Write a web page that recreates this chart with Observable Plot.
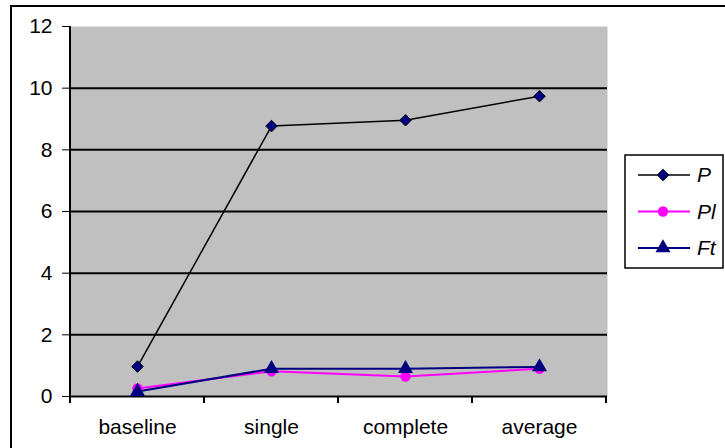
<!DOCTYPE html>
<html>
<head>
<meta charset="utf-8">
<script src="https://cdn.jsdelivr.net/npm/d3@7"></script>
<script src="https://cdn.jsdelivr.net/npm/@observablehq/plot@0.6"></script>
<style>
  html, body { margin: 0; padding: 0; background: white; }
  #chart { width: 725px; height: 448px; overflow: hidden; }
</style>
</head>
<body>
<div id="chart"></div>
<script>
const categories = ["baseline", "single", "complete", "average"];
const seriesNames = ["P", "Pl", "Ft"];
const P  = [0.97, 8.77, 8.96, 9.74];
const Pl = [0.26, 0.82, 0.65, 0.90];
const Ft = [0.16, 0.90, 0.90, 0.96];
const yTicks = [0, 2, 4, 6, 8, 10, 12];

const seriesValues = {P, Pl, Ft};
const colors = {P: "black", Pl: "#FF00FF", Ft: "#000080"};
const fills = {P: "#000080", Pl: "#FF00FF", Ft: "#000080"};
const symbols = {P: "diamond2", Pl: "circle", Ft: "triangle"};
const radii = {P: 5.2, Pl: 5.2, Ft: 5.6};
const widths = {P: 1.5, Pl: 2, Ft: 2};

const data = [];
for (const s of seriesNames) {
  categories.forEach((c, i) => data.push({series: s, cat: c, value: seriesValues[s][i]}));
}

const marks = [
  Plot.frame({fill: "#C0C0C0", stroke: null}),
  Plot.ruleY(yTicks.filter(t => t > 0 && t < 12), {stroke: "black", strokeWidth: 2}),
  Plot.ruleY([0], {stroke: "black", strokeWidth: 2}),
  Plot.axisY({ticks: yTicks, tickSize: 7, tickPadding: 10, tickFormat: d => String(d), label: null}),
  Plot.axisX({tickSize: 0, tickPadding: 23, label: null})
];
for (const s of seriesNames) {
  const d = data.filter(r => r.series === s);
  marks.push(Plot.line(d, {x: "cat", y: "value", stroke: colors[s], strokeWidth: widths[s]}));
}
for (const s of seriesNames) {
  const d = data.filter(r => r.series === s);
  marks.push(Plot.dot(d, {x: "cat", y: "value", symbol: () => symbols[s], r: radii[s],
    fill: fills[s], stroke: s === "P" ? "black" : "none", strokeWidth: 1}));
}

const chart = Plot.plot({
  width: 725,
  height: 448,
  marginLeft: 69,
  marginRight: 118,
  marginTop: 26,
  marginBottom: 52,
  x: {type: "point", domain: categories, padding: 0.5},
  y: {domain: [0, 12]},
  style: {fontFamily: "'Liberation Sans', Arial, sans-serif", fontSize: "21px", background: "white", color: "black"},
  marks
});

const svg = d3.select(chart);
const sx = chart.scale("x"), sy = chart.scale("y");
const pos = categories.map(c => sx.apply(c));
const step = pos[1] - pos[0];
const bounds = [pos[0] - step / 2, ...pos.map(p => p + step / 2)];
const y0 = sy.apply(0), y12 = sy.apply(12);

// outer chart border
svg.append("rect").attr("x", 11).attr("y", 6).attr("width", 800).attr("height", 600)
  .attr("fill", "none").attr("stroke", "black").attr("stroke-width", 2);

// left axis line
svg.append("line").attr("x1", bounds[0]).attr("x2", bounds[0]).attr("y1", y12).attr("y2", y0 + 1)
  .attr("stroke", "black").attr("stroke-width", 2);
// x category boundary ticks
svg.selectAll("line.xb").data(bounds).join("line").attr("class", "xb")
  .attr("x1", d => d).attr("x2", d => d).attr("y1", y0).attr("y2", y0 + 7)
  .attr("stroke", "black").attr("stroke-width", 2);

// legend
const lg = svg.append("g");
lg.append("rect").attr("x", 625).attr("y", 155).attr("width", 98).attr("height", 113)
  .attr("fill", "white").attr("stroke", "black").attr("stroke-width", 1.5);
const symMap = {P: d3.symbolDiamond2, Pl: d3.symbolCircle, Ft: d3.symbolTriangle};
seriesNames.forEach((s, i) => {
  const yy = 175 + i * 36.5;
  lg.append("line").attr("x1", 638).attr("x2", 690).attr("y1", yy).attr("y2", yy)
    .attr("stroke", colors[s]).attr("stroke-width", widths[s]);
  lg.append("path").attr("transform", `translate(663,${yy})`)
    .attr("d", d3.symbol(symMap[s], Math.PI * radii[s] * radii[s])())
    .attr("fill", fills[s]).attr("stroke", s === "P" ? "black" : "none");
  lg.append("text").attr("x", 697).attr("y", yy).attr("dy", "0.35em")
    .attr("text-anchor", "start")
    .attr("font-style", "italic").attr("font-size", 21)
    .attr("font-family", "'Liberation Sans', Arial, sans-serif").attr("fill", "black").text(s);
});

document.getElementById("chart").appendChild(chart);
</script>
</body>
</html>
